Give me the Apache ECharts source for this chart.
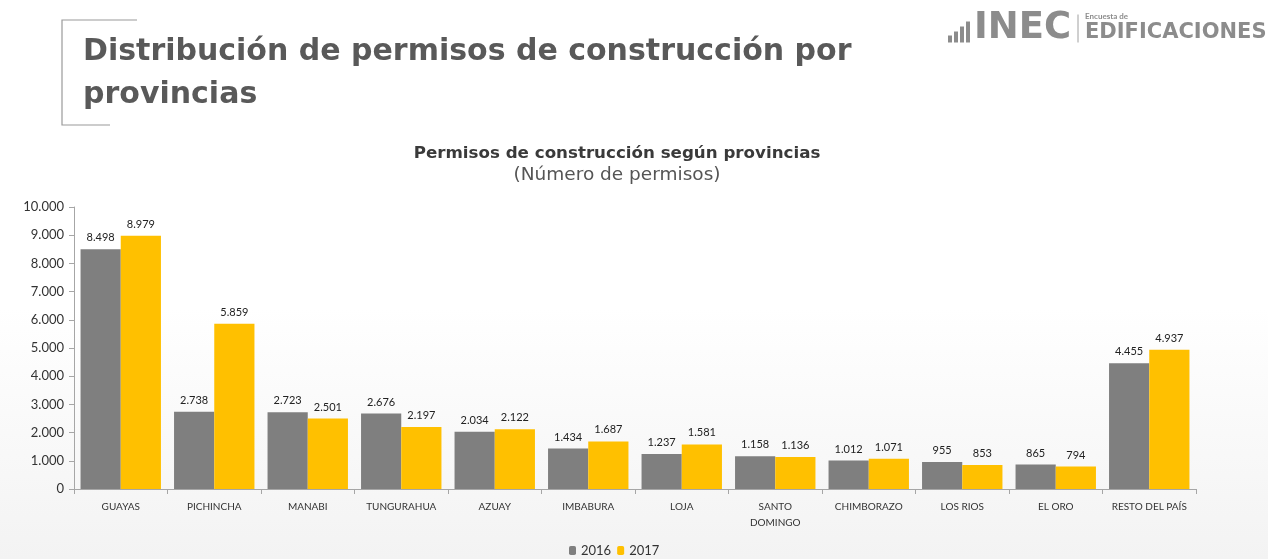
<!DOCTYPE html>
<html><head><meta charset="utf-8">
<script src="https://cdn.jsdelivr.net/npm/echarts@6/dist/echarts.min.js"></script>
<style>
html,body{margin:0;padding:0;}
#c{width:1268px;height:559px;background:linear-gradient(180deg,#ffffff 0%,#ffffff 55%,#f3f3f3 100%);}
</style></head>
<body><div id="c"></div>
<script>
const categories = ['GUAYAS','PICHINCHA','MANABI','TUNGURAHUA','AZUAY','IMBABURA','LOJA','SANTO\nDOMINGO','CHIMBORAZO','LOS RIOS','EL ORO','RESTO DEL PAÍS'];
const values2016 = [8498, 2738, 2723, 2676, 2034, 1434, 1237, 1158, 1012, 955, 865, 4455];
const values2017 = [8979, 5859, 2501, 2197, 2122, 1687, 1581, 1136, 1071, 853, 794, 4937];
const yTicks = [0,1000,2000,3000,4000,5000,6000,7000,8000,9000,10000];

const fmt = v => String(v).replace(/\B(?=(\d{3})+(?!\d))/g, '.');
const chart = echarts.init(document.getElementById('c'));
const font = 'Lato, "DejaVu Sans", sans-serif';
const wide = '"DejaVu Sans", sans-serif';
chart.setOption({
  animation:false,
  textStyle:{fontFamily:font},
  title:{
    text:'Permisos de construcción según provincias',
    subtext:'(Número de permisos)',
    left:612, textAlign:'center', top:140, itemGap:4,
    textStyle:{fontSize:16.7,fontWeight:'bold',color:'#3a3a3a',fontFamily:wide},
    subtextStyle:{fontSize:18.5,color:'#555',fontFamily:wide}
  },
  legend:{
    bottom:-3, left:564, itemWidth:7, itemHeight:9, itemGap:6,
    textStyle:{fontSize:13,color:'#333'},
    data:['2016','2017']
  },
  grid:{left:74,right:72,top:207,bottom:70},
  xAxis:{
    type:'category', data:categories,
    axisLine:{lineStyle:{color:'#a6a6a6'}},
    axisTick:{show:true,length:5,lineStyle:{color:'#a6a6a6'}},
    axisLabel:{fontSize:10,color:'#333',margin:10,interval:0,lineHeight:16}
  },
  yAxis:{
    type:'value', min:0, max:10000, interval:1000,
    axisLine:{show:true,lineStyle:{color:'#a6a6a6'}},
    axisTick:{show:true,length:5,lineStyle:{color:'#a6a6a6'}},
    splitLine:{show:false},
    axisLabel:{fontSize:13,color:'#333',margin:10,formatter:v=>fmt(v)}
  },
  series:[
    {name:'2016',type:'bar',data:values2016,barGap:'0%',barCategoryGap:'14%',
     itemStyle:{color:'#7f7f7f'},
     label:{show:true,position:'top',fontSize:11,color:'#222',distance:6,formatter:p=>fmt(p.value)}},
    {name:'2017',type:'bar',data:values2017,
     itemStyle:{color:'#ffc000'},
     label:{show:true,position:'top',fontSize:11,color:'#222',distance:6,formatter:p=>fmt(p.value)}}
  ],
  graphic:[
    {type:'polyline',shape:{points:[[137,20],[62,20],[62,125],[110,125]]},style:{stroke:'#9a9a9a',lineWidth:1.2,fill:null}},
    {type:'text',left:83,top:31,style:{text:'Distribución de permisos de construcción por\nprovincias',font:'bold 30px '+wide,fill:'#595959',lineHeight:43}},
    {type:'group',left:948,top:10,children:[
      {type:'rect',shape:{x:0,y:24,width:4,height:7},style:{fill:'#8c8c8c'}},
      {type:'rect',shape:{x:6,y:20,width:4,height:11},style:{fill:'#8c8c8c'}},
      {type:'rect',shape:{x:12,y:15,width:4,height:16},style:{fill:'#8c8c8c'}},
      {type:'rect',shape:{x:18,y:10,width:4,height:21},style:{fill:'#8c8c8c'}},
      {type:'text',x:26,y:17,style:{text:'INEC',font:'bold 37px '+wide,fill:'#8c8c8c',verticalAlign:'middle'}},
      {type:'line',shape:{x1:130,y1:3,x2:130,y2:31},style:{stroke:'#a0a0a0',lineWidth:1}},
      {type:'text',x:137,y:1,style:{text:'Encuesta de',font:'bold 8px '+font,fill:'#8c8c8c'}},
      {type:'text',x:137,y:11,style:{text:'EDIFICACIONES',font:'bold 21px '+wide,fill:'#8c8c8c'}}
    ]}
  ]
});
</script></body></html>
